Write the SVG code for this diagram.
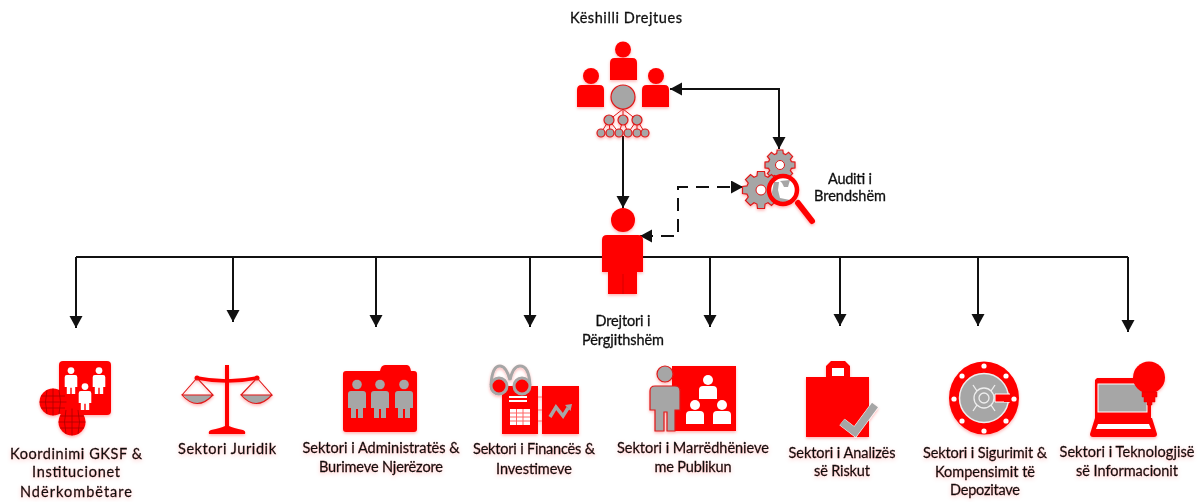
<svg xmlns="http://www.w3.org/2000/svg" width="1201" height="502" viewBox="0 0 1201 502">
<style>
text{font-family:"Lato","Carlito","Liberation Sans",sans-serif;font-size:14.500px;fill:#111;stroke:#111;stroke-width:.3;text-anchor:middle}
.c{fill:none;stroke:#111;stroke-width:2}
.d{stroke-dasharray:13 8}
.r{fill:#f00}
.w{fill:#fff}
.k{fill:#a6a6a6}
.kr{fill:#a6a6a6;stroke:#e01818;stroke-width:1.200}
.gl{filter:url(#glow)}
.soft{filter:url(#soft)}
.tg{filter:url(#tglow)}
</style>
<defs>
<filter id="glow" x="-20%" y="-20%" width="140%" height="150%"><feGaussianBlur in="SourceGraphic" stdDeviation=".4" result="b"/><feDropShadow in="b" dx="0" dy="1.500" stdDeviation="1.600" flood-color="#f00" flood-opacity=".3"/></filter>
<filter id="tglow" x="-10%" y="-20%" width="120%" height="150%"><feGaussianBlur in="SourceGraphic" stdDeviation=".3" result="b"/><feDropShadow in="b" dx="0" dy="1.500" stdDeviation="2" flood-color="#f00" flood-opacity=".22"/></filter>
<filter id="soft" x="-10%" y="-20%" width="120%" height="140%"><feGaussianBlur stdDeviation=".3"/></filter>
<marker id="a" markerUnits="userSpaceOnUse" markerWidth="13" markerHeight="14" refX="12" refY="6.500" orient="auto-start-reverse"><path d="M0 0L12 6.500L0 13z" fill="#111"/></marker>
<path id="bust" d="M-13.500 11V-6Q-13.500-11-9-11H9Q13.500-11 13.500-6V11z"/>
<polygon id="gear" points="7.6,-2.2 10,-1.9 10,1.9 7.6,2.2 6.9,3.8 8.4,5.7 5.7,8.4 3.8,6.9 2.2,7.6 1.9,10 -1.9,10 -2.2,7.6 -3.8,6.9 -5.7,8.4 -8.4,5.7 -6.9,3.8 -7.6,2.2 -10,1.9 -10,-1.9 -7.6,-2.2 -6.9,-3.800 -8.4,-5.7 -5.7,-8.4 -3.8,-6.9 -2.2,-7.6 -1.9,-10 1.9,-10 2.2,-7.6 3.8,-6.9 5.7,-8.4 8.4,-5.7 6.9,-3.8"/>
<g id="globe"><circle r="13.500" class="r"/><path d="M-13.500 0H13.500M-12-6H12M-12 6H12M0-13.500V13.500M-6-12Q-9 0-6 12M6-12Q9 0 6 12" fill="none" stroke="#a80000" stroke-width=".8"/></g>
<g id="smallp"><circle cy="-9" r="5"/><path d="M-9 10V1Q-9-3-5-3H5Q9-3 9 1V10z"/></g>
<g id="tallp"><circle cy="-13.500" r="4.800"/><path d="M-6 20V10H-9V-4Q-9-7-6-7H6Q9-7 9-4V10H6V20H1V11H-1V20z"/></g>
</defs>

<g id="connectors">
<path class="c" d="M76 257H1128"/>
<path class="c" d="M76 257V328" marker-end="url(#a)"/>
<path class="c" d="M233 257V322" marker-end="url(#a)"/>
<path class="c" d="M376 257V327" marker-end="url(#a)"/>
<path class="c" d="M530 257V327" marker-end="url(#a)"/>
<path class="c" d="M710 257V327" marker-end="url(#a)"/>
<path class="c" d="M840 257V326" marker-end="url(#a)"/>
<path class="c" d="M978 257V326" marker-end="url(#a)"/>
<path class="c" d="M1128 257V332" marker-end="url(#a)"/>
<path class="c" d="M623 136V208" marker-end="url(#a)"/>
<path class="c" d="M670 89H779V149" marker-start="url(#a)" marker-end="url(#a)"/>
<path class="c d" d="M640 236H678V187H743" marker-start="url(#a)" marker-end="url(#a)"/>
</g>

<g id="keshilli">
<g class="gl">
<use href="#bust" x="623.500" y="69" class="r"/>
<circle cx="623" cy="49.500" r="8" class="r"/>
<use href="#bust" x="590.500" y="96" class="r"/>
<circle cx="591" cy="76" r="8" class="r"/>
<use href="#bust" x="655.500" y="96" class="r"/>
<circle cx="656" cy="76" r="8" class="r"/>
<path d="M623 109L609 120M623 109V120M623 109L637 120M609 120L601 133M609 120L610 133M609 120L619 133M623 120L619 133M623 120L628 133M637 120L628 133M637 120L637 133M637 120L645 133" stroke="#e01818" fill="none"/>
<circle cx="623" cy="97" r="12" class="kr"/>
<g class="kr"><circle cx="609" cy="120" r="5"/><circle cx="623" cy="120" r="5"/><circle cx="637" cy="120" r="5"/><circle cx="601" cy="133" r="4"/><circle cx="610" cy="133" r="4"/><circle cx="619" cy="133" r="4"/><circle cx="628" cy="133" r="4"/><circle cx="637" cy="133" r="4"/><circle cx="645" cy="133" r="4"/></g>
</g>
<text class="soft" x="626" y="23" textLength="112">Këshilli Drejtues</text>
</g>

<g id="auditi">
<g class="gl">
<use href="#gear" class="kr" transform="translate(780 165) scale(1.500)" style="stroke-width:.8"/>
<circle cx="780" cy="165" r="4.500" fill="#fff" stroke="#e01818"/>
<use href="#gear" class="kr" transform="translate(761 190) scale(1.850)" style="stroke-width:.65"/>
<circle cx="761" cy="190" r="5" fill="#fff" stroke="#e01818"/>
<circle cx="783" cy="190" r="14" fill="#fff"/>
<path d="M772 192L774 182L779 182L778 190L780 198L790 200L785 204L773 202zM780 181L790 180L788 187L784 187L782 183z" class="k"/>
<circle cx="783" cy="190" r="14" fill="none" stroke="#f00" stroke-width="4.500"/>
<path d="M798 203L812 221" stroke="#f00" stroke-width="6" stroke-linecap="round"/>
</g>
<g class="soft"><text x="850" y="184" textLength="44">Auditi i</text><text x="850" y="201" textLength="72">Brendshëm</text></g>
</g>

<g id="drejtori">
<g class="gl r">
<circle cx="623" cy="220" r="12"/>
<path d="M608 294V272H602V240Q602 235 607 235H638Q643 235 643 240V272H637V294z"/>
</g>
<path d="M623 274V294" stroke="#c00" stroke-width=".8"/>
<g class="soft"><text x="623" y="326" textLength="55">Drejtori i</text><text x="623" y="345" textLength="82">Përgjithshëm</text></g>
</g>

<g id="koordinimi">
<g class="gl">
<rect x="59" y="361" width="52" height="54" rx="4" class="r"/>
<use href="#tallp" transform="translate(71 380) scale(.7)" class="w"/>
<use href="#tallp" transform="translate(99 380) scale(.7)" class="w"/>
<use href="#tallp" transform="translate(85 396) scale(.7)" class="w"/>
<use href="#globe" x="53" y="402"/>
<use href="#globe" x="72" y="422"/>
</g>
<g class="tg"><text x="76" y="459" textLength="132">Koordinimi GKSF &amp;</text><text x="76" y="477" textLength="88">Institucionet</text><text x="76" y="497" textLength="112">Ndërkombëtare</text></g>
</g>

<g id="juridik">
<g class="gl">
<path d="M225 365H229V426Q233 428 243 430Q246 431 245 434H209Q208 431 211 430Q221 428 225 426z" class="r"/>
<path d="M197 378Q227 384 257 378" fill="none" stroke="#f00" stroke-width="3.500"/>
<circle cx="197" cy="378" r="2.500" class="r"/><circle cx="257" cy="378" r="2.500" class="r"/>
<path d="M183 395Q197 412 213 395z" class="k"/>
<path d="M241 395Q256 412 272 395z" class="k"/>
<path d="M182 395L197 378L213 395H182Q197 412 213 395M241 395L257 378L272 395H241Q256 412 272 395" fill="none" stroke="#e01818" stroke-width="1.100"/>
</g>
<g class="tg"><text x="227" y="454" textLength="98">Sektori Juridik</text></g>
</g>

<g id="administrate">
<g class="gl">
<path d="M343 374Q343 371 346 371H380Q381 365 385 365H407Q410 365 411 371H414Q417 371 417 374V429Q417 432 414 432H346Q343 432 343 429z" class="r"/>
<use href="#tallp" x="357" y="398" class="k"/>
<use href="#tallp" x="380" y="398" class="k"/>
<use href="#tallp" x="404" y="398" class="k"/>
</g>
<g class="tg"><text x="381" y="453" textLength="157">Sektori i Administratës &amp;</text><text x="381" y="472" textLength="124">Burimeve Njerëzore</text></g>
</g>

<g id="financa">
<g class="gl">
<rect x="502" y="386" width="36" height="48" class="r"/>
<rect x="542" y="386" width="37" height="48" class="r"/>
<path d="M538 397H542M538 410H542M538 421H542" stroke="#f66" stroke-width="1.200"/>
<path d="M509 397H527M509 401H527" stroke="#fff" stroke-width="2"/>
<rect x="510" y="409" width="20" height="16" class="w"/>
<path d="M510 413H530M510 417H530M510 421H530M516.500 409V425M523 409V425" stroke="#f66" stroke-width="1"/>
<path d="M550 417L556 407L563 416L568 408" fill="none" stroke="#a6a6a6" stroke-width="3.500"/><path d="M565 405L572 404L570.500 411z" class="k"/>
<path d="M491 385Q492 366 500 366Q506 366 510 380Q513 366 520 366Q529 366 530 385" fill="none" stroke="#a6a6a6" stroke-width="3"/>
<circle cx="499" cy="386" r="8" class="r" stroke="#a6a6a6" stroke-width="3"/>
<circle cx="522" cy="386" r="8" class="r" stroke="#a6a6a6" stroke-width="3"/>
</g>
<g class="tg"><text x="534" y="454" textLength="122">Sektori i Financës &amp;</text><text x="534" y="474" textLength="76">Investimeve</text></g>
</g>

<g id="marredhenie">
<g class="gl">
<rect x="672" y="366" width="64" height="65" class="r"/>
<use href="#smallp" x="708" y="389" class="w"/>
<use href="#smallp" x="695" y="414" class="w"/>
<use href="#smallp" x="722" y="414" class="w"/>
<circle cx="665" cy="374" r="8" class="kr"/>
<path d="M655 431V410H650V391Q650 386 655 386H675Q680 386 680 391V410H675V431H667V412H664V431z" class="kr"/>
</g>
<g class="tg"><text x="693" y="453" textLength="152">Sektori i Marrëdhënieve</text><text x="693" y="472" textLength="77">me Publikun</text></g>
</g>

<g id="analiza">
<g class="gl">
<path d="M806 377H826V366L831 361H845L850 366V377H869V437H806z" class="r"/>
<rect x="832" y="368" width="12" height="8" class="w"/>
<path d="M842 422L855 432L875 405" fill="none" stroke="#fff" stroke-width="8.500"/>
<path d="M842 422L855 432L875 405" fill="none" stroke="#a6a6a6" stroke-width="7.500"/>
</g>
<g class="tg"><text x="842" y="458" textLength="107">Sektori i Analizës</text><text x="842" y="476" textLength="56">së Riskut</text></g>
</g>

<g id="sigurimi">
<g class="gl">
<ellipse cx="984" cy="398" rx="35" ry="36.500" class="r"/>
<circle cx="984" cy="398" r="24.500" class="k" stroke="#eee" stroke-width="1.500"/>
<g class="w"><circle cx="984" cy="366" r="2.600"/><circle cx="1006" cy="376" r="2.600"/><circle cx="1014" cy="399" r="2.600"/><circle cx="1006" cy="421" r="2.600"/><circle cx="984" cy="431" r="2.600"/><circle cx="962" cy="421" r="2.600"/><circle cx="954" cy="399" r="2.600"/><circle cx="962" cy="376" r="2.600"/></g>
<path d="M973 385L977 391M995 385L991 391M973 411L977 405M995 411L991 405" stroke="#eee" stroke-width="1.300"/>
<circle cx="984" cy="398" r="10" fill="none" stroke="#eee" stroke-width="1.300"/>
<circle cx="984" cy="398" r="5" fill="none" stroke="#eee" stroke-width="1.300"/>
<path d="M1010 394H995V402H1010" class="r" stroke="#fff"/>
<rect x="1004" y="395" width="7" height="7" class="r"/>
</g>
<g class="tg"><text x="985" y="458" textLength="124">Sektori i Sigurimit &amp;</text><text x="985" y="477" textLength="100">Kompensimit të</text><text x="985" y="495" textLength="70">Depozitave</text></g>
</g>

<g id="teknologji">
<g class="gl">
<path d="M1097 378H1151V418H1152L1157 434Q1157 437 1154 437H1093Q1090 437 1090 434L1095 418V380z" class="r"/>
<rect x="1098" y="384" width="49" height="28" class="k" stroke="#fff"/>
<path d="M1098 424H1149L1151 429H1096z" class="w"/>
<circle cx="1149" cy="377.500" r="16" class="r"/>
<path d="M1142 392H1157V397H1155V402H1152V405H1147V402H1144V397H1142z" class="r" stroke="#d00" stroke-width=".5"/>
</g>
<g class="tg"><text x="1127" y="457" textLength="135">Sektori i Teknologjisë</text><text x="1127" y="476" textLength="102">së Informacionit</text></g>
</g>
</svg>
